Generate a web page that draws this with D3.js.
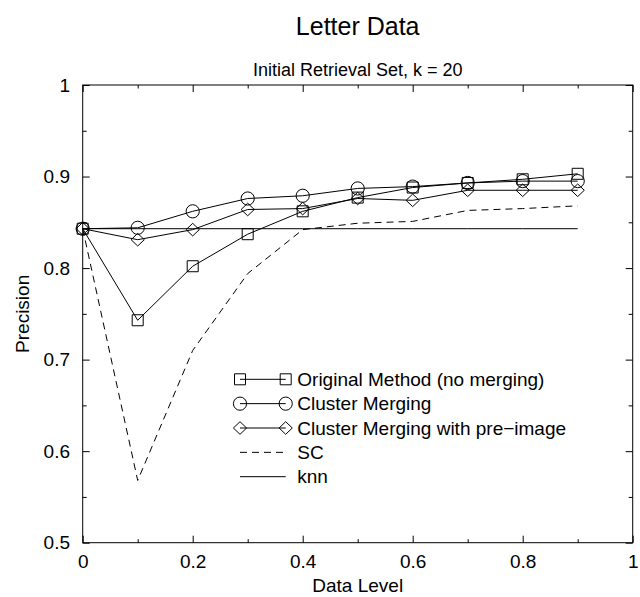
<!DOCTYPE html>
<html>
<head>
<meta charset="utf-8">
<script src="https://cdn.jsdelivr.net/npm/d3@7"></script>
<style>
  body { margin: 0; background: #fff; }
  svg { font-family: "Liberation Sans", Arial, Helvetica, sans-serif; }
  .tick text { font-size: 19px; fill: #000; }
  .tick line { stroke: #000; }
</style>
</head>
<body>
<svg width="640" height="597"></svg>
<script>
'use strict';

// data
var levels = [0, 0.1, 0.2, 0.3, 0.4, 0.5, 0.6, 0.7, 0.8, 0.9];
var original = [0.843, 0.743, 0.802, 0.837, 0.862, 0.877, 0.888, 0.893, 0.897, 0.903];
var clusterMerging = [0.843, 0.844, 0.862, 0.876, 0.879, 0.887, 0.889, 0.893, 0.895, 0.895];
var mergingPreImage = [0.843, 0.831, 0.842, 0.864, 0.865, 0.876, 0.874, 0.885, 0.885, 0.885];
var sc = [0.843, 0.568, 0.710, 0.794, 0.842, 0.849, 0.851, 0.863, 0.865, 0.868];
var knn = [0.843, 0.843, 0.843, 0.843, 0.843, 0.843, 0.843, 0.843, 0.843, 0.843];

var legendNames = ['Original Method (no merging)', 'Cluster Merging', 'Cluster Merging with pre\u2212image', 'SC', 'knn'];
var xTicks = [0, 0.2, 0.4, 0.6, 0.8, 1];
var xMinor = [0.1, 0.3, 0.5, 0.7, 0.9];
var yTicks = [0.5, 0.6, 0.7, 0.8, 0.9, 1];
var yMinor = [0.55, 0.65, 0.75, 0.85, 0.95];

var svg = d3.select('svg');
var plotL = 82.7, plotR = 632.7, plotT = 85, plotB = 542.7;

var x = d3.scaleLinear().domain([0, 1]).range([plotL, plotR]);
var y = d3.scaleLinear().domain([0.5, 1]).range([plotB, plotT]);

// titles
svg.append('text')
  .attr('x', (plotL + plotR) / 2).attr('y', 35)
  .attr('text-anchor', 'middle').attr('font-size', 25)
  .text('Letter Data');
svg.append('text')
  .attr('x', (plotL + plotR) / 2).attr('y', 76)
  .attr('text-anchor', 'middle').attr('font-size', 18)
  .text('Initial Retrieval Set, k = 20');

// axes, ticks pointing inward on all four sides
function addAxis(axis, tx, ty) {
  var g = svg.append('g').attr('transform', 'translate(' + tx + ',' + ty + ')').call(axis);
  g.select('.domain').remove();
  return g;
}
addAxis(d3.axisBottom(x).tickValues(xTicks).tickSize(-7).tickPadding(11.5).tickFormat(function (d) { return d; }), 0, plotB);
addAxis(d3.axisBottom(x).tickValues(xMinor).tickSize(-3.5).tickFormat(''), 0, plotB);
addAxis(d3.axisTop(x).tickValues(xTicks).tickSize(-7).tickFormat(''), 0, plotT);
addAxis(d3.axisTop(x).tickValues(xMinor).tickSize(-3.5).tickFormat(''), 0, plotT);
addAxis(d3.axisLeft(y).tickValues(yTicks).tickSize(-7).tickPadding(12.7).tickFormat(function (d) { return d; }), plotL, 0);
addAxis(d3.axisLeft(y).tickValues(yMinor).tickSize(-4).tickFormat(''), plotL, 0);
addAxis(d3.axisRight(y).tickValues(yTicks).tickSize(-7).tickFormat(''), plotR, 0);
addAxis(d3.axisRight(y).tickValues(yMinor).tickSize(-4).tickFormat(''), plotR, 0);

svg.append('rect')
  .attr('x', plotL).attr('y', plotT)
  .attr('width', plotR - plotL).attr('height', plotB - plotT)
  .attr('fill', 'none').attr('stroke', '#000').attr('stroke-width', 1);

svg.append('text')
  .attr('x', (plotL + plotR) / 2).attr('y', 592)
  .attr('text-anchor', 'middle').attr('font-size', 19)
  .text('Data Level');
svg.append('text')
  .attr('transform', 'translate(28.5,' + (plotT + plotB) / 2 + ') rotate(-90)')
  .attr('text-anchor', 'middle').attr('font-size', 19)
  .text('Precision');

// markers
var markers = {
  square: d3.symbol().type(d3.symbolSquare).size(121),
  circle: d3.symbol().type(d3.symbolCircle).size(Math.PI * 6.6 * 6.6),
  diamond: function () { return 'M0,-6.3L6.6,0L0,6.3L-6.6,0Z'; }
};

var series = [
  { values: original, marker: 'square', dash: null },
  { values: clusterMerging, marker: 'circle', dash: null },
  { values: mergingPreImage, marker: 'diamond', dash: null },
  { values: sc, marker: null, dash: '7,5' },
  { values: knn, marker: null, dash: null }
];

var line = d3.line()
  .x(function (d) { return x(d[0]); })
  .y(function (d) { return y(d[1]); });

series.forEach(function (s) {
  var pts = levels.map(function (l, i) { return [l, s.values[i]]; });
  svg.append('path')
    .datum(pts)
    .attr('d', line)
    .attr('fill', 'none')
    .attr('stroke', '#000')
    .attr('stroke-width', 1)
    .attr('stroke-dasharray', s.dash);
  if (s.marker) {
    svg.append('g').selectAll('path')
      .data(pts)
      .enter()
      .append('path')
      .attr('transform', function (d) { return 'translate(' + x(d[0]) + ',' + y(d[1]) + ')'; })
      .attr('d', markers[s.marker])
      .attr('fill', 'none')
      .attr('stroke', '#000')
      .attr('stroke-width', 1);
  }
});

// legend
var legend = svg.append('g').attr('transform', 'translate(240,379.3)');
var row = legend.selectAll('g')
  .data(series)
  .enter()
  .append('g')
  .attr('transform', function (d, i) { return 'translate(0,' + i * 24.35 + ')'; });

row.append('line')
  .attr('x1', 0).attr('x2', 45.7)
  .attr('stroke', '#000').attr('stroke-width', 1)
  .attr('stroke-dasharray', function (d) { return d.dash; });

row.filter(function (d) { return d.marker; })
  .selectAll('path')
  .data(function (d) { return [[0, d.marker], [45.7, d.marker]]; })
  .enter()
  .append('path')
  .attr('transform', function (d) { return 'translate(' + d[0] + ',0)'; })
  .attr('d', function (d) { return markers[d[1]](); })
  .attr('fill', 'none').attr('stroke', '#000').attr('stroke-width', 1);

row.append('text')
  .attr('x', 57.3).attr('dy', '0.35em')
  .attr('font-size', 19)
  .text(function (d, i) { return legendNames[i]; });
</script>
</body>
</html>
